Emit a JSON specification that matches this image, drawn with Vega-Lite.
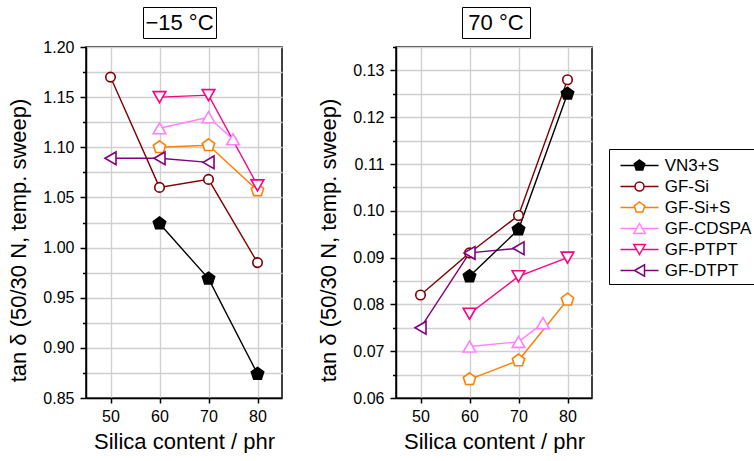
{
  "$schema": "https://vega.github.io/schema/vega-lite/v6.json",
  "background": "white",
  "padding": {"left": 7, "top": 6, "right": 0, "bottom": 0},
  "config": {
    "font": "Liberation Sans",
    "view": {"stroke": "black", "strokeWidth": 1.5},
    "axis": {
      "labelFont": "Liberation Sans",
      "titleFont": "Liberation Sans",
      "labelFontSize": 16,
      "titleFontSize": 22,
      "titleFontWeight": "normal",
      "labelColor": "black",
      "titleColor": "black",
      "domainColor": "black",
      "domainWidth": 1.5,
      "tickColor": "black",
      "tickWidth": 1.5,
      "gridColor": "#d0d0d0",
      "gridWidth": 1.4,
      "labelOverlap": false,
      "labelBound": false,
      "labelFlush": false
    },
    "legend": {
      "orient": "none",
      "legendX": 523,
      "legendY": 142,
      "strokeColor": "black",
      "padding": 4,
      "symbolSize": 100,
      "symbolStrokeWidth": 1.5,
      "symbolOffset": 18,
      "labelOffset": 16.7,
      "labelFont": "Liberation Sans",
      "labelFontSize": 17,
      "labelColor": "black",
      "rowPadding": 3,
      "titleFontSize": 4,
      "titlePadding": 0
    }
  },
  "datasets": {
    "pts": [
      {"panel": "m15", "series": "GF-Si", "x": 50, "y": 1.170},
      {"panel": "m15", "series": "GF-Si", "x": 60, "y": 1.060},
      {"panel": "m15", "series": "GF-Si", "x": 70, "y": 1.068},
      {"panel": "m15", "series": "GF-Si", "x": 80, "y": 0.985},
      {"panel": "m15", "series": "GF-Si+S", "x": 60, "y": 1.100},
      {"panel": "m15", "series": "GF-Si+S", "x": 70, "y": 1.102},
      {"panel": "m15", "series": "GF-Si+S", "x": 80, "y": 1.057},
      {"panel": "m15", "series": "GF-CDSPA", "x": 60, "y": 1.119},
      {"panel": "m15", "series": "GF-CDSPA", "x": 70, "y": 1.130},
      {"panel": "m15", "series": "GF-CDSPA", "x": 75, "y": 1.108},
      {"panel": "m15", "series": "GF-PTPT", "x": 60, "y": 1.150},
      {"panel": "m15", "series": "GF-PTPT", "x": 70, "y": 1.152},
      {"panel": "m15", "series": "GF-PTPT", "x": 80, "y": 1.062},
      {"panel": "m15", "series": "GF-DTPT", "x": 50, "y": 1.089},
      {"panel": "m15", "series": "GF-DTPT", "x": 60, "y": 1.089},
      {"panel": "m15", "series": "GF-DTPT", "x": 70, "y": 1.085},
      {"panel": "m15", "series": "VN3+S", "x": 60, "y": 1.024},
      {"panel": "m15", "series": "VN3+S", "x": 70, "y": 0.969},
      {"panel": "m15", "series": "VN3+S", "x": 80, "y": 0.874},
      {"panel": "p70", "series": "GF-Si", "x": 50, "y": 0.082},
      {"panel": "p70", "series": "GF-Si", "x": 60, "y": 0.091},
      {"panel": "p70", "series": "GF-Si", "x": 70, "y": 0.099},
      {"panel": "p70", "series": "GF-Si", "x": 80, "y": 0.128},
      {"panel": "p70", "series": "GF-Si+S", "x": 60, "y": 0.064},
      {"panel": "p70", "series": "GF-Si+S", "x": 70, "y": 0.068},
      {"panel": "p70", "series": "GF-Si+S", "x": 80, "y": 0.081},
      {"panel": "p70", "series": "GF-CDSPA", "x": 60, "y": 0.071},
      {"panel": "p70", "series": "GF-CDSPA", "x": 70, "y": 0.072},
      {"panel": "p70", "series": "GF-CDSPA", "x": 75, "y": 0.076},
      {"panel": "p70", "series": "GF-PTPT", "x": 60, "y": 0.078},
      {"panel": "p70", "series": "GF-PTPT", "x": 70, "y": 0.086},
      {"panel": "p70", "series": "GF-PTPT", "x": 80, "y": 0.090},
      {"panel": "p70", "series": "GF-DTPT", "x": 50, "y": 0.075},
      {"panel": "p70", "series": "GF-DTPT", "x": 60, "y": 0.091},
      {"panel": "p70", "series": "GF-DTPT", "x": 70, "y": 0.092},
      {"panel": "p70", "series": "VN3+S", "x": 60, "y": 0.086},
      {"panel": "p70", "series": "VN3+S", "x": 70, "y": 0.096},
      {"panel": "p70", "series": "VN3+S", "x": 80, "y": 0.125}
    ]
  },
  "spacing": 34,
  "hconcat": [
    {
      "spacing": -1,
      "vconcat": [
        {
          "spacing": 0,
          "hconcat": [
            {
              "width": 56,
              "height": 31,
              "view": {"stroke": null},
              "data": {"values": []},
              "mark": "text",
              "encoding": {}
            },
            {
              "width": 73,
              "height": 31,
              "view": {"stroke": "black", "strokeWidth": 1},
              "data": {"values": [{"label": "−15 °C"}]},
              "mark": {"type": "text", "font": "Liberation Sans", "fontSize": 22, "color": "black"},
              "encoding": {"text": {"field": "label"}}
            }
          ]
        },
        {
          "width": 196,
          "height": 351,
          "data": {"name": "pts"},
          "transform": [{"filter": "datum.panel == 'm15'"}],
          "encoding": {
            "x": {
              "field": "x", "type": "quantitative",
              "scale": {"domain": [45, 85], "nice": false, "zero": false},
              "axis": {"values": [50, 60, 70, 80], "tickSize": 5, "labelPadding": 5, "title": "Silica content / phr", "titlePadding": 7, "grid": true}
            },
            "y": {
              "field": "y", "type": "quantitative",
              "scale": {"domain": [0.85, 1.2], "nice": false, "zero": false},
              "axis": {
                "values": [0.85, 0.875, 0.9, 0.925, 0.95, 0.975, 1.0, 1.025, 1.05, 1.075, 1.1, 1.125, 1.15, 1.175, 1.2],
                "labelExpr": "abs(datum.value * 20 - round(datum.value * 20)) < 0.001 ? format(datum.value, '.2f') : ''",
                "tickSize": {"condition": {"test": "abs(datum.value * 20 - round(datum.value * 20)) < 0.001", "value": 6}, "value": 3.5},
                "labelPadding": 6,
                "title": "tan δ (50/30 N, temp. sweep)",
                "titlePadding": 12,
                "titleY": 193,
                "grid": true
              }
            },
            "color": {
              "field": "series", "type": "nominal",
              "scale": {"domain": ["GF-DTPT", "GF-PTPT", "GF-CDSPA", "GF-Si+S", "GF-Si", "VN3+S"], "range": ["#800080", "#ff0080", "#ff80ff", "#ff8000", "#800000", "#000000"]},
              "legend": null
            }
          },
          "layer": [
            {"mark": {"type": "line", "strokeWidth": 1.4}},
            {
              "transform": [{"filter": "datum.series === 'GF-Si'"}],
              "mark": {"type": "point", "filled": false, "fill": "#ffffff", "strokeWidth": 1.6, "size": 100, "opacity": 1,
                       "shape": "M0.95,0A0.95,0.95 0 1,1 -0.95,0A0.95,0.95 0 1,1 0.95,0Z"}
            },
            {
              "transform": [{"filter": "datum.series === 'GF-Si+S' || datum.series === 'VN3+S'"}],
              "mark": {"type": "point", "filled": false, "strokeWidth": 1.6, "size": 100, "opacity": 1,
                       "shape": "M0,-1.3L1.236,-0.402L0.764,1.052L-0.764,1.052L-1.236,-0.402Z"},
              "encoding": {"fill": {"condition": {"test": "datum.series === 'VN3+S'", "value": "#000000"}, "value": "#ffffff"}}
            },
            {
              "transform": [{"filter": "datum.series === 'GF-CDSPA'"}],
              "mark": {"type": "point", "filled": false, "fill": "#ffffff", "strokeWidth": 1.6, "size": 100, "opacity": 1,
                       "shape": "M0,-1.1L1.27,1.1L-1.27,1.1Z"}
            },
            {
              "transform": [{"filter": "datum.series === 'GF-PTPT'"}],
              "mark": {"type": "point", "filled": false, "fill": "#ffffff", "strokeWidth": 1.6, "size": 100, "opacity": 1,
                       "shape": "M0,1.1L1.27,-1.1L-1.27,-1.1Z"}
            },
            {
              "transform": [{"filter": "datum.series === 'GF-DTPT'"}],
              "mark": {"type": "point", "filled": false, "fill": "#ffffff", "strokeWidth": 1.6, "size": 100, "opacity": 1,
                       "shape": "M-1.1,0L1.1,-1.27L1.1,1.27Z"}
            },
            {
              "transform": [{"filter": "datum.series === 'legend-key-only'"}],
              "mark": {"type": "point", "filled": false, "strokeWidth": 1.5, "size": 100, "opacity": 1},
              "encoding": {
                "shape": {
                  "field": "series", "type": "nominal",
                  "scale": {"domain": ["VN3+S", "GF-Si", "GF-Si+S", "GF-CDSPA", "GF-PTPT", "GF-DTPT"], "range": [
                    "M-3.8,0L-1.05,0M1.05,0L3.8,0M0,-1.1L1.046,-0.34L0.647,0.89L-0.647,0.89L-1.046,-0.34Z",
                    "M-3.8,0L-0.9,0M0.9,0L3.8,0M0.9,0A0.9,0.9 0 1,1 -0.9,0A0.9,0.9 0 1,1 0.9,0Z",
                    "M-3.8,0L-1.05,0M1.05,0L3.8,0M0,-1.1L1.046,-0.34L0.647,0.89L-0.647,0.89L-1.046,-0.34Z",
                    "M-3.8,0L-0.6,0M0.6,0L3.8,0M0,-1L1.15,1L-1.15,1Z",
                    "M-3.8,0L-0.6,0M0.6,0L3.8,0M0,1L1.15,-1L-1.15,-1Z",
                    "M-3.8,0L-1,0M1,0L3.8,0M-1,0L1,-1.15L1,1.15Z"
                  ]},
                  "legend": {"title": " "}
                },
                "stroke": {
                  "field": "series", "type": "nominal",
                  "scale": {"domain": ["VN3+S", "GF-Si", "GF-Si+S", "GF-CDSPA", "GF-PTPT", "GF-DTPT"], "range": ["#000000", "#800000", "#ff8000", "#ff80ff", "#ff0080", "#800080"]},
                  "legend": {"title": " "}
                },
                "fill": {
                  "field": "series", "type": "nominal",
                  "scale": {"domain": ["VN3+S", "GF-Si", "GF-Si+S", "GF-CDSPA", "GF-PTPT", "GF-DTPT"], "range": ["#000000", "#ffffff", "#ffffff", "#ffffff", "#ffffff", "#ffffff"]},
                  "legend": {"title": " "}
                }
              }
            }
          ]
        }
      ]
    },
    {
      "spacing": -1,
      "vconcat": [
        {
          "spacing": 0,
          "hconcat": [
            {
              "width": 65,
              "height": 31,
              "view": {"stroke": null},
              "data": {"values": []},
              "mark": "text",
              "encoding": {}
            },
            {
              "width": 68,
              "height": 31,
              "view": {"stroke": "black", "strokeWidth": 1},
              "data": {"values": [{"label": "70 °C"}]},
              "mark": {"type": "text", "font": "Liberation Sans", "fontSize": 22, "color": "black"},
              "encoding": {"text": {"field": "label"}}
            }
          ]
        },
        {
          "width": 196,
          "height": 351,
          "data": {"name": "pts"},
          "transform": [{"filter": "datum.panel == 'p70'"}],
          "encoding": {
            "x": {
              "field": "x", "type": "quantitative",
              "scale": {"domain": [45, 85], "nice": false, "zero": false},
              "axis": {"values": [50, 60, 70, 80], "tickSize": 5, "labelPadding": 5, "title": "Silica content / phr", "titlePadding": 7, "grid": true}
            },
            "y": {
              "field": "y", "type": "quantitative",
              "scale": {"domain": [0.06, 0.135], "nice": false, "zero": false},
              "axis": {
                "values": [0.06, 0.065, 0.07, 0.075, 0.08, 0.085, 0.09, 0.095, 0.1, 0.105, 0.11, 0.115, 0.12, 0.125, 0.13, 0.135],
                "labelExpr": "abs(datum.value * 100 - round(datum.value * 100)) < 0.001 ? format(datum.value, '.2f') : ''",
                "tickSize": {"condition": {"test": "abs(datum.value * 100 - round(datum.value * 100)) < 0.001", "value": 6}, "value": 3.5},
                "labelPadding": 6,
                "title": "tan δ (50/30 N, temp. sweep)",
                "titlePadding": 12,
                "titleY": 193,
                "grid": true
              }
            },
            "color": {
              "field": "series", "type": "nominal",
              "scale": {"domain": ["GF-DTPT", "GF-PTPT", "GF-CDSPA", "GF-Si+S", "GF-Si", "VN3+S"], "range": ["#800080", "#ff0080", "#ff80ff", "#ff8000", "#800000", "#000000"]},
              "legend": null
            }
          },
          "layer": [
            {"mark": {"type": "line", "strokeWidth": 1.4}},
            {
              "transform": [{"filter": "datum.series === 'GF-Si'"}],
              "mark": {"type": "point", "filled": false, "fill": "#ffffff", "strokeWidth": 1.6, "size": 100, "opacity": 1,
                       "shape": "M0.95,0A0.95,0.95 0 1,1 -0.95,0A0.95,0.95 0 1,1 0.95,0Z"}
            },
            {
              "transform": [{"filter": "datum.series === 'GF-Si+S' || datum.series === 'VN3+S'"}],
              "mark": {"type": "point", "filled": false, "strokeWidth": 1.6, "size": 100, "opacity": 1,
                       "shape": "M0,-1.3L1.236,-0.402L0.764,1.052L-0.764,1.052L-1.236,-0.402Z"},
              "encoding": {"fill": {"condition": {"test": "datum.series === 'VN3+S'", "value": "#000000"}, "value": "#ffffff"}}
            },
            {
              "transform": [{"filter": "datum.series === 'GF-CDSPA'"}],
              "mark": {"type": "point", "filled": false, "fill": "#ffffff", "strokeWidth": 1.6, "size": 100, "opacity": 1,
                       "shape": "M0,-1.1L1.27,1.1L-1.27,1.1Z"}
            },
            {
              "transform": [{"filter": "datum.series === 'GF-PTPT'"}],
              "mark": {"type": "point", "filled": false, "fill": "#ffffff", "strokeWidth": 1.6, "size": 100, "opacity": 1,
                       "shape": "M0,1.1L1.27,-1.1L-1.27,-1.1Z"}
            },
            {
              "transform": [{"filter": "datum.series === 'GF-DTPT'"}],
              "mark": {"type": "point", "filled": false, "fill": "#ffffff", "strokeWidth": 1.6, "size": 100, "opacity": 1,
                       "shape": "M-1.1,0L1.1,-1.27L1.1,1.27Z"}
            }
          ]
        }
      ]
    }
  ]
}
